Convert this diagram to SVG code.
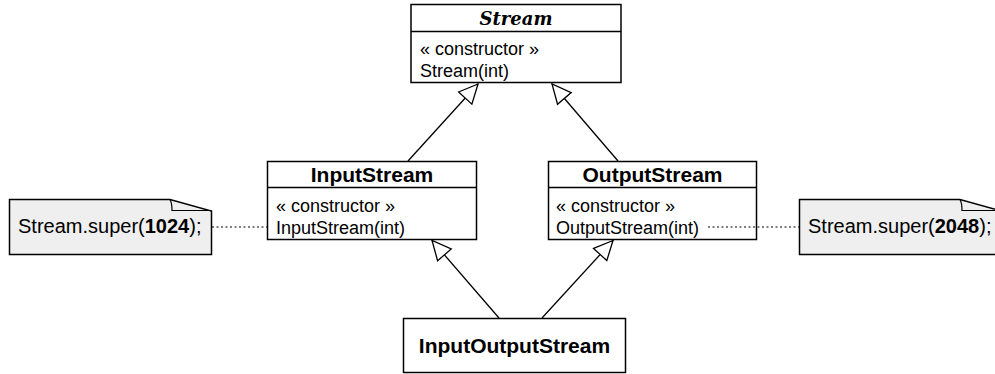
<svg xmlns="http://www.w3.org/2000/svg" width="995" height="374" viewBox="0 0 995 374">
<style>
.box{fill:#fff;stroke:#000;stroke-width:1.5}
.sep{stroke:#000;stroke-width:1.5}
.name{font-family:"Liberation Sans",Arial,sans-serif;font-weight:bold;font-size:21px;text-anchor:middle;fill:#000}
.abs{font-family:"DejaVu Serif",serif;font-weight:bold;font-style:italic;font-size:18px;text-anchor:middle;fill:#000}
.mem{font-family:"Liberation Sans",Arial,sans-serif;font-size:18px;fill:#000}
.note{fill:#efefef;stroke:#000;stroke-width:1.5}
.fold{fill:none;stroke:#000;stroke-width:1.2}
.notetxt{font-family:"Liberation Sans",Arial,sans-serif;font-size:20px;fill:#000}
.gen{fill:none;stroke:#000;stroke-width:1.3}
.dot{fill:none;stroke:#000;stroke-width:1.2;stroke-dasharray:2 2.5}
</style>
<defs>
<marker id="tri" markerUnits="userSpaceOnUse" markerWidth="22" markerHeight="22" viewBox="0 0 22 22" refX="20" refY="11" orient="auto">
<path d="M1,2 L20,11 L1,20 Z" fill="#fff" stroke="#000" stroke-width="1.3"/>
</marker>
</defs>

<g id="Stream">
<rect class="box" x="411" y="4.5" width="210" height="78"/>
<line class="sep" x1="411" y1="31.5" x2="621" y2="31.5"/>
<text class="abs" x="516" y="25">Stream</text>
<text class="mem" x="420" y="55">« constructor »</text>
<text class="mem" x="420" y="77">Stream(int)</text>
</g>

<g id="InputStream">
<rect class="box" x="267.5" y="161.5" width="209" height="78"/>
<line class="sep" x1="267.5" y1="187.5" x2="476.5" y2="187.5"/>
<text class="name" x="372" y="182">InputStream</text>
<text class="mem" x="276" y="212">« constructor »</text>
<text class="mem" x="276" y="234">InputStream(int)</text>
</g>

<g id="OutputStream">
<rect class="box" x="548.5" y="161.5" width="208" height="78"/>
<line class="sep" x1="548.5" y1="187.5" x2="756.5" y2="187.5"/>
<text class="name" x="652.5" y="182">OutputStream</text>
<text class="mem" x="556" y="212">« constructor »</text>
<text class="mem" x="556" y="234">OutputStream(int)</text>
</g>

<g id="InputOutputStream">
<rect class="box" x="403.5" y="318.5" width="222" height="54"/>
<text class="name" x="514.5" y="353">InputOutputStream</text>
</g>

<g id="note1024">
<path class="note" d="M9.5,199.5 H170 L211.5,211 V254.5 H9.5 Z"/>
<path class="fold" d="M170,199.5 Q172,203 172,210.5 H211.5"/>
<text class="notetxt" x="18" y="233">Stream.super(<tspan font-weight="bold">1024</tspan>);</text>
</g>

<g id="note2048">
<path class="note" d="M799.5,199.5 H960 L1001.5,211 V254.5 H799.5 Z"/>
<path class="fold" d="M960,199.5 Q962,203 962,210.5 H1001.5"/>
<text class="notetxt" x="808" y="233">Stream.super(<tspan font-weight="bold">2048</tspan>);</text>
</g>

<g id="connectors">
<line class="gen" x1="408" y1="161" x2="478" y2="84" marker-end="url(#tri)"/>
<line class="gen" x1="618" y1="161" x2="552" y2="84" marker-end="url(#tri)"/>
<line class="gen" x1="499" y1="318" x2="432" y2="240.5" marker-end="url(#tri)"/>
<line class="gen" x1="542" y1="318" x2="613" y2="240.5" marker-end="url(#tri)"/>
<line class="dot" x1="212" y1="227" x2="267" y2="227"/>
<line class="dot" x1="708" y1="227" x2="799" y2="227"/>
</g>
</svg>
